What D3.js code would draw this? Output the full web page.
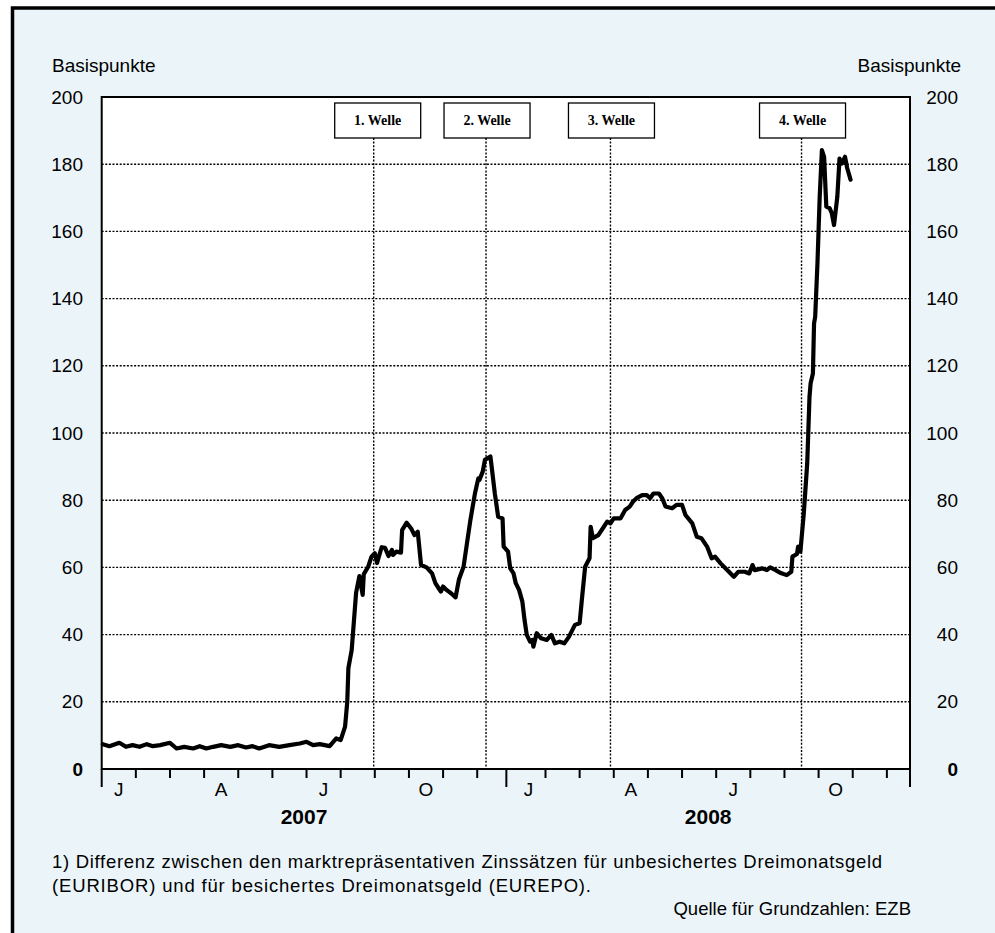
<!DOCTYPE html>
<html>
<head>
<meta charset="utf-8">
<script src="https://cdn.jsdelivr.net/npm/d3@7"></script>
<style>
  body { margin: 0; background: #fff; }
  svg { display: block; }
</style>
</head>
<body>
<svg id="chart" width="995" height="933"></svg>
<script>
// spread EURIBOR - EUREPO, 3 months, basis points
const dates = [
  "2007-01-02", "2007-01-08", "2007-01-17", "2007-01-23", "2007-01-29", "2007-02-04", "2007-02-10",
  "2007-02-15", "2007-02-21", "2007-03-01", "2007-03-07", "2007-03-14", "2007-03-22", "2007-03-28",
  "2007-04-03", "2007-04-09", "2007-04-16", "2007-04-24", "2007-05-01", "2007-05-08", "2007-05-14",
  "2007-05-20", "2007-05-29", "2007-06-07", "2007-06-16", "2007-06-25", "2007-07-01", "2007-07-07",
  "2007-07-13", "2007-07-22", "2007-07-28", "2007-08-01", "2007-08-05", "2007-08-07", "2007-08-08",
  "2007-08-11", "2007-08-15", "2007-08-18", "2007-08-21", "2007-08-22", "2007-08-26", "2007-08-29",
  "2007-09-01", "2007-09-03", "2007-09-07", "2007-09-10", "2007-09-13", "2007-09-16", "2007-09-17",
  "2007-09-20", "2007-09-24", "2007-09-25", "2007-09-29", "2007-10-03", "2007-10-06", "2007-10-09",
  "2007-10-12", "2007-10-17", "2007-10-22", "2007-10-25", "2007-10-28", "2007-10-30", "2007-11-01",
  "2007-11-04", "2007-11-08", "2007-11-12", "2007-11-15", "2007-11-19", "2007-11-22", "2007-11-25",
  "2007-11-29", "2007-12-02", "2007-12-03", "2007-12-06", "2007-12-08", "2007-12-13", "2007-12-17",
  "2007-12-20", "2007-12-24", "2007-12-25", "2007-12-29", "2007-12-31", "2008-01-03", "2008-01-05",
  "2008-01-08", "2008-01-11", "2008-01-13", "2008-01-15", "2008-01-18", "2008-01-20", "2008-01-21",
  "2008-01-24", "2008-01-28", "2008-02-02", "2008-02-06", "2008-02-09", "2008-02-13", "2008-02-17",
  "2008-02-21", "2008-02-26", "2008-03-01", "2008-03-03", "2008-03-06", "2008-03-10", "2008-03-11",
  "2008-03-13", "2008-03-18", "2008-03-23", "2008-03-26", "2008-03-29", "2008-04-01", "2008-04-07",
  "2008-04-11", "2008-04-15", "2008-04-18", "2008-04-21", "2008-04-26", "2008-04-30", "2008-05-03",
  "2008-05-06", "2008-05-11", "2008-05-14", "2008-05-17", "2008-05-23", "2008-05-27", "2008-06-01",
  "2008-06-04", "2008-06-10", "2008-06-14", "2008-06-18", "2008-06-23", "2008-06-27", "2008-06-30",
  "2008-07-05", "2008-07-11", "2008-07-17", "2008-07-21", "2008-07-27", "2008-07-31", "2008-08-03",
  "2008-08-05", "2008-08-12", "2008-08-16", "2008-08-19", "2008-08-24", "2008-08-28", "2008-09-03",
  "2008-09-07", "2008-09-08", "2008-09-12", "2008-09-13", "2008-09-15", "2008-09-18", "2008-09-21",
  "2008-09-23", "2008-09-24", "2008-09-26", "2008-09-27", "2008-09-28", "2008-09-30", "2008-10-02",
  "2008-10-04", "2008-10-06", "2008-10-08", "2008-10-11", "2008-10-13", "2008-10-15", "2008-10-18",
  "2008-10-20", "2008-10-22", "2008-10-25", "2008-10-27", "2008-10-30"
];
const spread = [
  7.4, 6.8, 7.8, 6.6, 7.1, 6.6, 7.4,
  6.8, 7.1, 7.8, 6.1, 6.6, 6.1, 6.8,
  6.1, 6.6, 7.1, 6.6, 7.1, 6.4, 6.8,
  6.1, 7.1, 6.6, 7.1, 7.6, 8.1, 7.1,
  7.4, 6.8, 9.1, 8.6, 12.6, 20, 30,
  35.4, 52.4, 57.4, 51.8, 58, 60.2, 63.2,
  64.2, 61.3, 66, 65.8, 63.4, 65.2, 63.7,
  64.7, 64.4, 71.1, 73.3, 71.6, 69.6, 70.6,
  60.7, 60, 58.2, 55.3, 53.8, 52.8, 54.3,
  53.3, 52.3, 51.1, 56.5, 60.2, 67.2, 74.1,
  82, 86.5, 86, 88.5, 92, 93, 82,
  75.1, 74.6, 66.2, 64.7, 59.7, 58.2, 55.3,
  53.3, 49.8, 44.3, 39.9, 37.9, 38.4, 36.4,
  40.4, 38.9, 38.4, 39.9, 37.4, 37.9, 37.4,
  39.4, 42.9, 43.4, 50.3, 60.2, 62.7, 72.1,
  68.7, 69.6, 72.1, 73.6, 73.1, 74.6, 74.6,
  77.1, 78.1, 79.6, 80.6, 81.5, 81.5, 80.6,
  82, 82, 80.6, 78.1, 77.6, 78.6, 78.6,
  75.6, 73.1, 69.1, 68.7, 66.2, 62.7, 63.2,
  61.2, 59.2, 57.2, 58.7, 58.7, 58.2, 60.7,
  59.2, 59.7, 59.2, 60, 59.2, 58.4, 57.7,
  58.7, 63.2, 64, 66.2, 64.7, 76.1, 91,
  110.8, 114.8, 117.7, 132.6, 134.6, 150.5, 170.3,
  184.2, 182.2, 167.4, 166.9, 165.4, 161.9, 170.3,
  181.7, 180.2, 182.2, 178.8, 175.4
];

const waveLabels = ["1. Welle", "2. Welle", "3. Welle", "4. Welle"];
const waveDates = ["2007-08-31", "2007-12-09", "2008-03-29", "2008-09-16"];

const yTicks = [0, 20, 40, 60, 80, 100, 120, 140, 160, 180, 200];
const years = [2007, 2008];
const quarterLabels = ["J", "A", "J", "O"];
const xStart = "2007-01-01";
const xEnd = "2008-12-22";

const unitLabel = "Basispunkte";
const footnote = [
  "1) Differenz zwischen den marktrepräsentativen Zinssätzen für unbesichertes Dreimonatsgeld",
  "(EURIBOR) und für besichertes Dreimonatsgeld (EUREPO)."
];
const source = "Quelle für Grundzahlen: EZB";

const bg = "#ebf5f9";
const font = "'Liberation Sans', Arial, Helvetica, sans-serif";
const serif = "'Liberation Serif', 'Times New Roman', serif";

const plot = { left: 101.7, right: 910, top: 97, bottom: 769 };

// months counted from Jan 2007, so every month gets the same width
const parse = d3.timeParse("%Y-%m-%d");
function monthIndex(str) {
  const d = parse(str);
  const days = new Date(d.getFullYear(), d.getMonth() + 1, 0).getDate();
  return (d.getFullYear() - 2007) * 12 + d.getMonth() + (d.getDate() - 1) / days;
}

const x = d3.scaleLinear()
  .domain([monthIndex(xStart), monthIndex(xEnd)])
  .range([plot.left, plot.right]);
const y = d3.scaleLinear().domain([0, 200]).range([plot.bottom, plot.top]);

const data = dates.map((d, i) => ({ m: monthIndex(d), v: spread[i] }));

const svg = d3.select("#chart");

// outer frame
svg.append("rect").attr("width", 995).attr("height", 933).attr("fill", "#fff");
svg.append("rect")
  .attr("x", 12.5).attr("y", 8)
  .attr("width", 1100).attr("height", 1100)
  .attr("fill", bg)
  .attr("stroke", "#000")
  .attr("stroke-width", 3.5);

// plot area
svg.append("rect")
  .attr("x", plot.left).attr("y", plot.top)
  .attr("width", plot.right - plot.left)
  .attr("height", plot.bottom - plot.top)
  .attr("fill", "#fff");

// dotted grid
svg.append("g")
  .selectAll("line")
  .data(yTicks.filter((t) => t > 0 && t < 200))
  .join("line")
  .attr("x1", plot.left).attr("x2", plot.right)
  .attr("y1", (d) => y(d)).attr("y2", (d) => y(d))
  .attr("stroke", "#000")
  .attr("stroke-width", 1.4)
  .attr("stroke-dasharray", "2,1.6");

// waves
const boxW = 86, boxH = 35, boxTop = 103;
const waves = svg.append("g")
  .selectAll("g")
  .data(waveDates.map((d, i) => ({ m: monthIndex(d), label: waveLabels[i], first: i === 0 })))
  .join("g");

waves.append("line")
  .attr("x1", (d) => x(d.m)).attr("x2", (d) => x(d.m))
  .attr("y1", boxTop + boxH).attr("y2", plot.bottom)
  .attr("stroke", "#000")
  .attr("stroke-width", 1.4)
  .attr("stroke-dasharray", "2,1.6");

// first box sits a little right of its line in the original
waves.append("rect")
  .attr("x", (d) => x(d.m) - boxW / 2 + (d.first ? 4 : 1))
  .attr("y", boxTop)
  .attr("width", boxW).attr("height", boxH)
  .attr("fill", "#fff")
  .attr("stroke", "#000")
  .attr("stroke-width", 1.3);

waves.append("text")
  .attr("x", (d) => x(d.m) + (d.first ? 4 : 1))
  .attr("y", boxTop + 22)
  .attr("text-anchor", "middle")
  .attr("font-family", serif)
  .attr("font-weight", "bold")
  .attr("font-size", "14px")
  .text((d) => d.label);

// the spread
const line = d3.line()
  .x((d) => x(d.m))
  .y((d) => y(d.v));

svg.append("path")
  .datum(data)
  .attr("fill", "none")
  .attr("stroke", "#000")
  .attr("stroke-width", 4.2)
  .attr("stroke-linejoin", "round")
  .attr("stroke-linecap", "round")
  .attr("d", line);

// plot border
svg.append("rect")
  .attr("x", plot.left).attr("y", plot.top)
  .attr("width", plot.right - plot.left)
  .attr("height", plot.bottom - plot.top)
  .attr("fill", "none")
  .attr("stroke", "#000")
  .attr("stroke-width", 2);

// x axis ticks
const monthTicks = d3.range(1, 24).filter((m) => m !== 12);
svg.append("g")
  .selectAll("line")
  .data(monthTicks)
  .join("line")
  .attr("x1", (d) => x(d)).attr("x2", (d) => x(d))
  .attr("y1", plot.bottom).attr("y2", plot.bottom + 9)
  .attr("stroke", "#000")
  .attr("stroke-width", 2);

// long ticks at the year limits
const yearEdges = [x(0), x(12) - 5, x.range()[1]];
svg.append("g")
  .selectAll("line")
  .data(yearEdges)
  .join("line")
  .attr("x1", (d) => d).attr("x2", (d) => d)
  .attr("y1", plot.bottom).attr("y2", plot.bottom + 18)
  .attr("stroke", "#000")
  .attr("stroke-width", 2);

// quarter letters and years
const quarters = [];
years.forEach((yr, yi) => {
  quarterLabels.forEach((q, qi) => quarters.push({ m: yi * 12 + qi * 3 + 0.5, label: q }));
});

svg.append("g")
  .selectAll("text")
  .data(quarters)
  .join("text")
  .attr("x", (d) => x(d.m))
  .attr("y", 796)
  .attr("text-anchor", "middle")
  .attr("font-family", font)
  .attr("font-size", "19px")
  .text((d) => d.label);

svg.append("g")
  .selectAll("text")
  .data(years)
  .join("text")
  .attr("x", (d, i) => (yearEdges[i] + yearEdges[i + 1]) / 2)
  .attr("y", 824)
  .attr("text-anchor", "middle")
  .attr("font-family", font)
  .attr("font-size", "21px")
  .attr("font-weight", "bold")
  .text((d) => d);

// y labels, both sides
[{ xPos: 83 }, { xPos: 958 }].forEach((side) => {
  svg.append("g")
    .selectAll("text")
    .data(yTicks)
    .join("text")
    .attr("x", side.xPos)
    .attr("y", (d) => y(d))
    .attr("dy", "0.35em")
    .attr("text-anchor", "end")
    .attr("font-family", font)
    .attr("font-size", "19px")
    .attr("font-weight", (d) => (d === 0 ? "bold" : "normal"))
    .text((d) => d);
});

svg.append("text")
  .attr("x", 52).attr("y", 72)
  .attr("font-family", font)
  .attr("font-size", "19px")
  .text(unitLabel);

svg.append("text")
  .attr("x", 961).attr("y", 72)
  .attr("text-anchor", "end")
  .attr("font-family", font)
  .attr("font-size", "19px")
  .text(unitLabel);

// footnote
const footWidths = [830, 539];
svg.append("g")
  .selectAll("text")
  .data(footnote)
  .join("text")
  .attr("x", 52)
  .attr("y", (d, i) => 868 + i * 24)
  .attr("font-family", font)
  .attr("font-size", "18.5px")
  .attr("textLength", (d, i) => footWidths[i])
  .attr("lengthAdjust", "spacing")
  .text((d) => d);

svg.append("text")
  .attr("x", 911).attr("y", 915)
  .attr("text-anchor", "end")
  .attr("font-family", font)
  .attr("font-size", "18.5px")
  .text(source);
</script>
</body>
</html>
